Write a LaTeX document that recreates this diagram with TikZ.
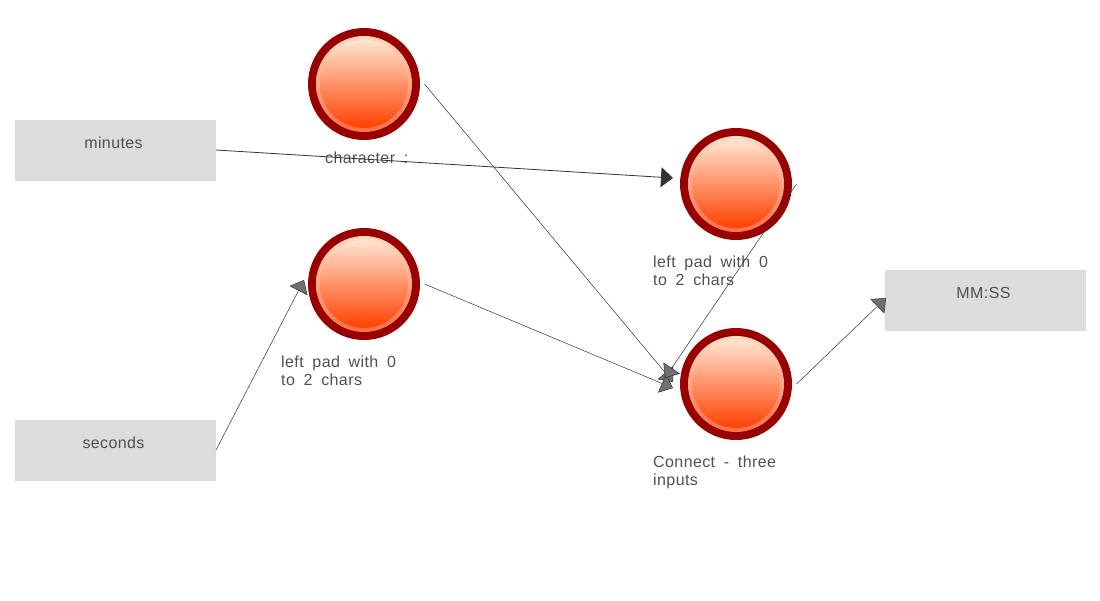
\documentclass[tikz,border=0pt]{standalone}
\usepackage{fontspec}
\setmainfont[WordSpace=1.8,LetterSpace=2.5]{Liberation Sans}
\usetikzlibrary{arrows.meta}
\definecolor{lampring}{HTML}{990000}
\definecolor{lamptop}{HTML}{FFE4D0}
\definecolor{lampmiddle}{HTML}{FFA47C}
\definecolor{lampbottom}{HTML}{FF4000}
\definecolor{rimtop}{HTML}{FFDCC4}
\definecolor{rimbottom}{HTML}{FF7048}
\definecolor{boxgray}{HTML}{DCDCDC}
\definecolor{inkgray}{HTML}{333333}
\definecolor{textgray}{HTML}{505050}
\tikzset{
  databox/.style={fill=boxgray, inner sep=0pt, minimum width=201pt, text height=28pt, text depth=33pt, text=textgray, font=\fontsize{16}{18}\selectfont},
  lamp/.style={circle, inner sep=0pt, outer sep=4.5pt, minimum size=112pt, fill=none,
    path picture={
      \fill[lampring] (path picture bounding box.center) circle (57pt);
      \shade[top color=rimtop, bottom color=rimbottom] (path picture bounding box.center) circle (48pt);
      \shade[top color=lamptop, middle color=lampmiddle, bottom color=lampbottom] (path picture bounding box.center) circle (44pt);
    }},
  caption/.style={anchor=north west, inner sep=0pt, align=left, text=textgray, font=\fontsize{16}{18}\selectfont},
  link/.style={draw=inkgray, line width=0.5pt, -{Triangle[length=12pt,width=20pt,fill=inkgray!70!white,line width=0.5pt]}},
  solidlink/.style={draw=inkgray, line width=0.8pt, -{Triangle[length=12pt,width=20pt,fill=inkgray]}}
}
\begin{document}
\begin{tikzpicture}[x=1pt, y=-1pt]
\useasboundingbox (0,0) rectangle (1100,600);

\node[databox] (minutes) at (115.5,150.5) {minutes\kern4pt};
\node[databox] (seconds) at (115.5,450.5) {seconds\kern4pt};
\node[databox] (result) at (985.5,300.5) {MM:SS\kern4pt};

\node[lamp] (charlamp) at (364,84) {};
\node[lamp] (padsec) at (364,284) {};
\node[lamp] (padmin) at (736,184) {};
\node[lamp] (connect) at (736,384) {};

\node[caption] (charlabel) at (325,151.5) {character :};
\node[caption] (padseclabel) at (281,355.5) {left pad with 0\\to 2 chars};
\node[caption] (padminlabel) at (653,255.5) {left pad with 0\\to 2 chars};
\node[caption] (connectlabel) at (653,455.5) {Connect - three\\inputs};

% arrow ends that do not sit on an anchor
\coordinate (padminin) at (673,178);
\coordinate (padsecin) at (304,280);
\coordinate (connectina) at (673,382);
\coordinate (connectinb) at (673,388);
\coordinate (connectinc) at (665,378);
\coordinate (resultin) at (886,298);
\coordinate (minutesout) at (216,150);
\coordinate (secondsout) at (216,450);

\draw[solidlink] (minutesout) -- (padminin);
\draw[link] (secondsout) -- (padsecin);
\draw[link] (charlamp.east) -- (connectina);
\draw[link] (padsec.east) -- (connectinb);
\draw[link] (padmin.east) -- (connectinc);
\draw[link] (connect.east) -- (resultin);

\end{tikzpicture}
\end{document}
